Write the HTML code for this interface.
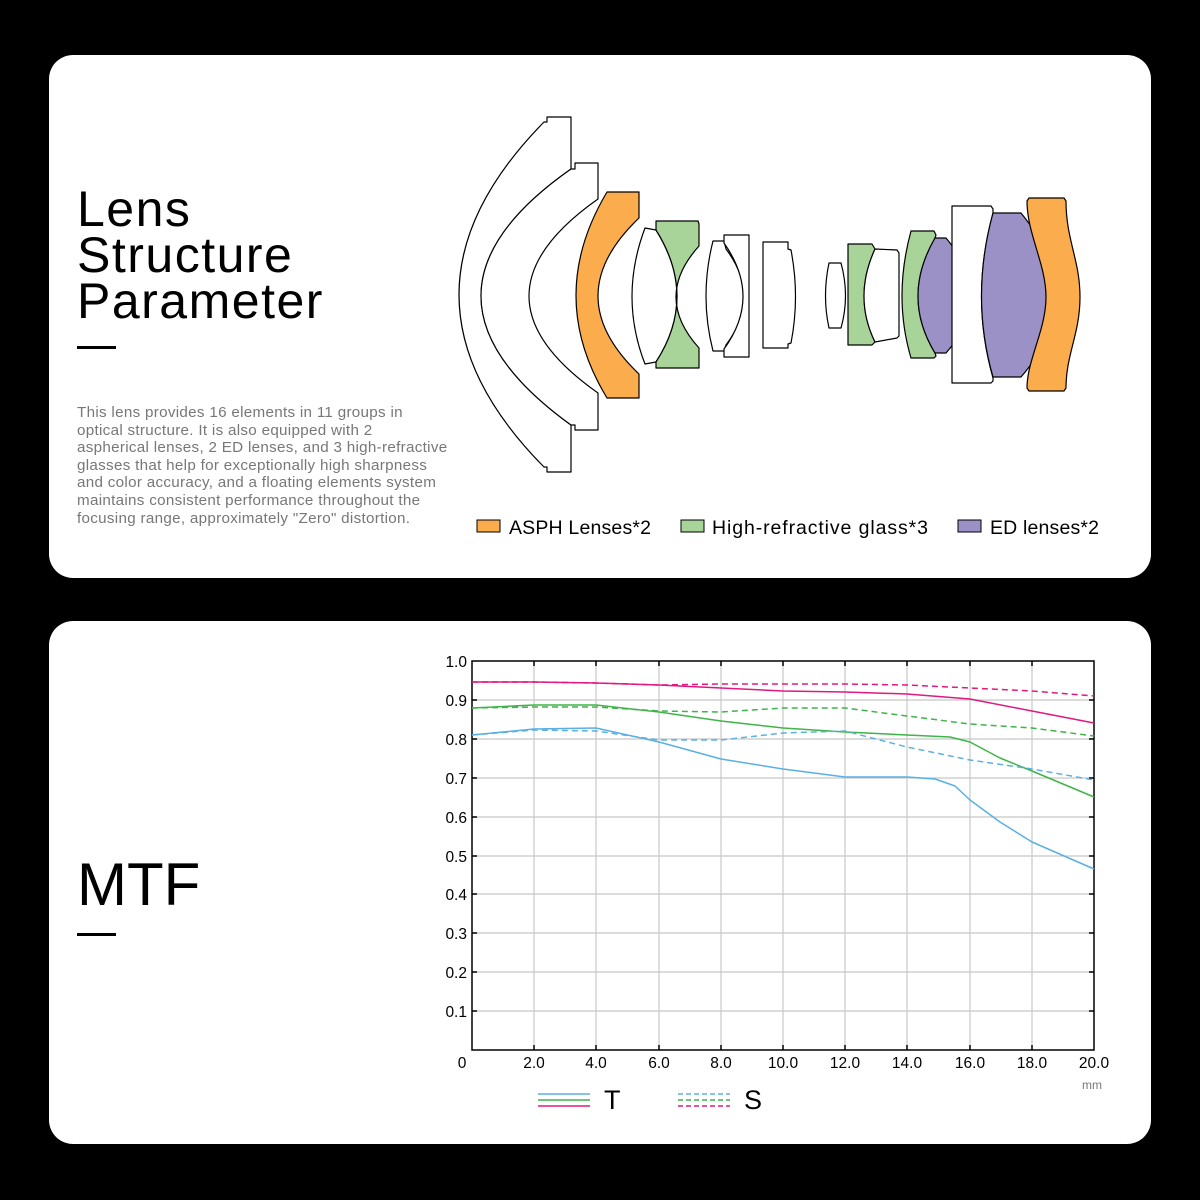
<!DOCTYPE html>
<html><head><meta charset="utf-8"><style>
html,body{margin:0;padding:0;background:#000;}
body{width:1200px;height:1200px;position:relative;overflow:hidden;font-family:"Liberation Sans",sans-serif;}
.card{position:absolute;left:49px;width:1102px;background:#fff;border-radius:24px;}
.t{position:absolute;left:77px;color:#000;}
svg{position:absolute;left:0;top:0;}
</style></head><body>
<div class="card" style="top:55px;height:523px"></div>
<div class="card" style="top:621px;height:523px"></div>
<div class="t" style="top:186px;font-size:50px;line-height:46px;letter-spacing:1.5px">Lens<br>Structure<br>Parameter</div>
<div class="t" style="top:346px;width:39px;height:3px;background:#000"></div>
<div class="t" style="top:404px;font-size:15.2px;line-height:17.6px;letter-spacing:0.3px;color:#777;white-space:nowrap">This lens provides 16 elements in 11 groups in<br>optical structure. It is also equipped with 2<br>aspherical lenses, 2 ED lenses, and 3 high-refractive<br>glasses that help for exceptionally high sharpness<br>and color accuracy, and a floating elements system<br>maintains consistent performance throughout the<br>focusing range, approximately "Zero" distortion.</div>
<div class="t" style="top:852px;font-size:60px;line-height:66px">MTF</div>
<div class="t" style="top:933px;width:39px;height:3px;background:#000"></div>

<svg width="1200" height="1200" viewBox="0 0 1200 1200" font-family="Liberation Sans, sans-serif">
<g stroke="#000" stroke-width="1.2" stroke-linejoin="round">
<path fill="#fff" d="M544,122 L547,122 L547,117 L571,117 L571,169 Q391,295 571,425 L571,472 L547,472 L547,467 L544,467 Q374,295 544,122 Z"/>
<path fill="#fff" d="M571,169 L575,169 L575,163 L598,163 L598,199 Q460,296 598,393 L598,430 L575,430 L575,425 L571,425 Q391,295 571,169 Z"/>
<path fill="#fbac4c" d="M607,192 L639,192 L639,218 Q557,296 639,374 L639,398 L607,398 Q545,296 607,192 Z"/>
<path fill="#fff" d="M645,228 L656,230 Q698,297 656,362 L645,364 Q619,297 645,228 Z"/>
<path fill="#a8d49a" d="M656,221 L698,221 L699,224 L699,246 Q653,297 699,348 L699,368 L656,368 L656,362 Q698,297 656,230 Z"/>
<path fill="#fff" d="M713,241 L724,241 L726,249 Q762,297 726,345 L724,351 L713,351 Q699,296 713,241 Z"/>
<path fill="#fff" d="M724,235 L749,235 L749,345 L749,357 L724,357 L724,349 Q762,297 724,243 Z"/>
<path fill="#fff" d="M763,242 L788,242 L788,249 L791,250 Q800,297 791,343 L788,344 L788,348 L763,348 Z"/>
<path fill="#fff" d="M829,263 L841,263 Q850,296 841,328 L829,328 Q822,296 829,263 Z"/>
<path fill="#a8d49a" d="M848,244 L872,244 L875,249 Q853,297 875,342 L872,345 L848,345 Z"/>
<path fill="#fff" d="M875,249 L897,250 L899,253 L899,336 L897,338 L875,342 Q853,297 875,249 Z"/>
<path fill="#a8d49a" d="M911,231 L934,231 L936,235 L935,238 Q901,297 935,353 L936,356 L934,358 L911,358 Q893,297 911,231 Z"/>
<path fill="#9b91c6" d="M935,238 L946,238 Q996,297 946,353 L935,353 Q901,297 935,238 Z"/>
<path fill="none" d="M952,240 Q1000,297 952,354"/>
<path fill="#fff" d="M952,206 L991,206 L993,209 L993,213 Q970,297 993,378 L993,381 L991,383 L952,383 Z"/>
<path fill="#9b91c6" d="M993,213 L1021,213 Q1090,297 1021,377 L993,377 Q970,297 993,213 Z"/>
<path fill="#fbac4c" d="M1029,198 L1064,198 L1066,201 C1066,240 1080,260 1080,297 C1080,334 1066,354 1066,388 L1064,391 L1029,391 L1027,388 C1027,360 1046,330 1046,297 C1046,264 1027,234 1027,201 Z"/>
</g>
<g font-size="19.5" fill="#000">
<rect x="477" y="520" width="23" height="12" fill="#fbac4c" stroke="#000" stroke-width="1"/>
<text x="509" y="534" textLength="142" lengthAdjust="spacing">ASPH Lenses*2</text>
<rect x="681" y="520" width="23" height="12" fill="#a8d49a" stroke="#000" stroke-width="1"/>
<text x="712" y="534" textLength="216" lengthAdjust="spacing">High-refractive glass*3</text>
<rect x="958" y="520" width="23" height="12" fill="#9b91c6" stroke="#000" stroke-width="1"/>
<text x="990" y="534" textLength="109" lengthAdjust="spacing">ED lenses*2</text>
</g>
<g stroke="#c8c8c8" stroke-width="1.2">
<line x1="534" y1="661" x2="534" y2="1050"/><line x1="596" y1="661" x2="596" y2="1050"/><line x1="659" y1="661" x2="659" y2="1050"/><line x1="721" y1="661" x2="721" y2="1050"/><line x1="783" y1="661" x2="783" y2="1050"/><line x1="845" y1="661" x2="845" y2="1050"/><line x1="907" y1="661" x2="907" y2="1050"/><line x1="970" y1="661" x2="970" y2="1050"/><line x1="1032" y1="661" x2="1032" y2="1050"/>
<line x1="472" y1="700" x2="1094" y2="700"/><line x1="472" y1="739" x2="1094" y2="739"/><line x1="472" y1="778" x2="1094" y2="778"/><line x1="472" y1="817" x2="1094" y2="817"/><line x1="472" y1="856" x2="1094" y2="856"/><line x1="472" y1="894" x2="1094" y2="894"/><line x1="472" y1="933" x2="1094" y2="933"/><line x1="472" y1="972" x2="1094" y2="972"/><line x1="472" y1="1011" x2="1094" y2="1011"/>
</g>
<g stroke="#000" stroke-width="1.5">
<rect x="472" y="661" width="622" height="389" fill="none"/>
<path d="M534,661v5M596,661v5M659,661v5M721,661v5M783,661v5M845,661v5M907,661v5M970,661v5M1032,661v5M534,1050v-5M596,1050v-5M659,1050v-5M721,1050v-5M783,1050v-5M845,1050v-5M907,1050v-5M970,1050v-5M1032,1050v-5M472,700h5M472,739h5M472,778h5M472,817h5M472,856h5M472,894h5M472,933h5M472,972h5M472,1011h5M1094,700h-5M1094,739h-5M1094,778h-5M1094,817h-5M1094,856h-5M1094,894h-5M1094,933h-5M1094,972h-5M1094,1011h-5"/>
</g>
<g fill="none" stroke-width="1.5" stroke-linejoin="round">
<polyline stroke="#e0197f" points="472,682 534,682 596,683 659,685 721,688 783,691 845,692 907,694 970,699 1032,711 1094,723"/>
<polyline stroke="#e0197f" stroke-dasharray="6,4" points="472,682 534,682 596,683 659,685 721,684 783,684 845,684 907,685 970,688 1032,691 1094,696"/>
<polyline stroke="#3fb449" points="472,708 534,705 596,705 659,712 721,721 783,728 845,732 907,735 950,737 970,742 1000,758 1032,771 1094,797"/>
<polyline stroke="#3fb449" stroke-dasharray="6,4" points="472,708 534,707 596,707 659,711 721,712 783,708 845,708 907,716 970,724 1032,728 1094,736"/>
<polyline stroke="#5ab0e3" points="472,735 534,729 596,728 659,742 721,759 783,769 845,777 907,777 935,779 955,786 970,800 1000,822 1032,842 1094,869"/>
<polyline stroke="#5ab0e3" stroke-dasharray="6,4" points="472,735 534,730 596,731 659,740 721,740 783,733 845,731 907,747 970,760 1032,769 1094,780"/>
</g>
<g font-size="15.5" fill="#000" text-anchor="end">
<text x="467" y="667">1.0</text><text x="467" y="706">0.9</text><text x="467" y="745">0.8</text><text x="467" y="784">0.7</text><text x="467" y="823">0.6</text><text x="467" y="862">0.5</text><text x="467" y="900">0.4</text><text x="467" y="939">0.3</text><text x="467" y="978">0.2</text><text x="467" y="1017">0.1</text>
</g>
<g font-size="15.5" fill="#000" text-anchor="middle">
<text x="462" y="1068">0</text><text x="534" y="1068">2.0</text><text x="596" y="1068">4.0</text><text x="659" y="1068">6.0</text><text x="721" y="1068">8.0</text><text x="783" y="1068">10.0</text><text x="845" y="1068">12.0</text><text x="907" y="1068">14.0</text><text x="970" y="1068">16.0</text><text x="1032" y="1068">18.0</text><text x="1094" y="1068">20.0</text>
</g>
<text x="1092" y="1089" font-size="12" fill="#777" text-anchor="middle">mm</text>
<g stroke-width="1.5" fill="none">
<line x1="538" y1="1094" x2="590" y2="1094" stroke="#5ab0e3"/>
<line x1="538" y1="1100" x2="590" y2="1100" stroke="#3fb449"/>
<line x1="538" y1="1106" x2="590" y2="1106" stroke="#e0197f"/>
<line x1="678" y1="1094" x2="730" y2="1094" stroke="#5ab0e3" stroke-dasharray="5,3"/>
<line x1="678" y1="1100" x2="730" y2="1100" stroke="#3fb449" stroke-dasharray="5,3"/>
<line x1="678" y1="1106" x2="730" y2="1106" stroke="#e0197f" stroke-dasharray="5,3"/>
</g>
<text x="604" y="1109" font-size="27" fill="#000">T</text>
<text x="744" y="1109" font-size="27" fill="#000">S</text>
</svg>
</body></html>
